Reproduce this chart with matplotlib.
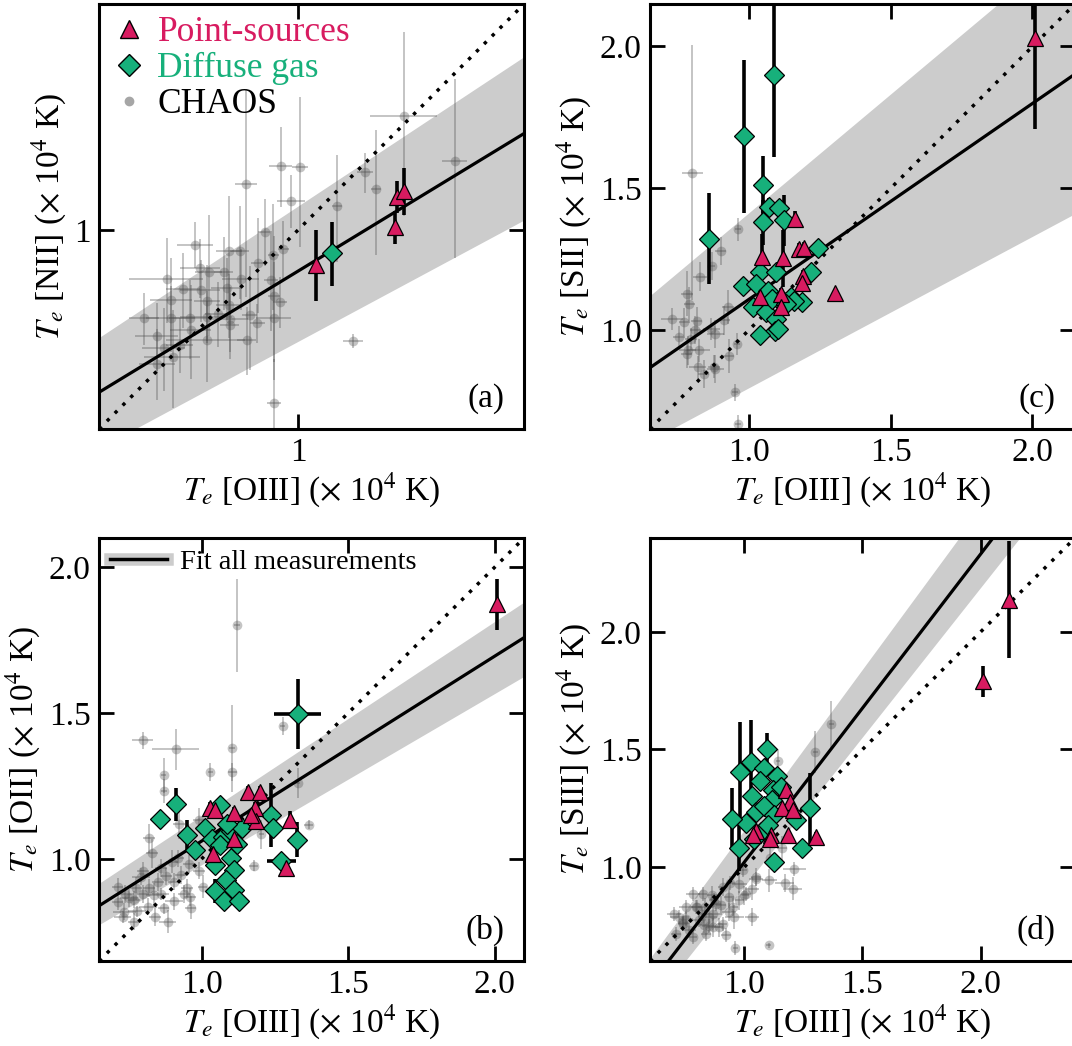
import numpy as np
import matplotlib
matplotlib.use('Agg')
import matplotlib.pyplot as plt
from matplotlib.lines import Line2D
from matplotlib.ticker import FixedLocator, FixedFormatter, NullLocator

plt.rcParams['font.family'] = ['Liberation Serif', 'DejaVu Serif']
plt.rcParams['mathtext.fontset'] = 'stix'

PINK = '#D81B60'
GREEN = '#17B07B'

# ---------------- panel (a): [NII] vs [OIII] (log axes) ----------------
a_ps_x = [1.032, 1.191, 1.194, 1.209]
a_ps_y = [0.940, 1.005, 1.062, 1.072]
a_ps_yerr = [0.06, 0.03, 0.03, 0.045]
a_df_x = [1.062]
a_df_y = [0.960]
a_df_yerr = [0.055]
a_ch_x = [1.210, 1.325, 0.970, 1.004, 0.911, 1.128, 1.150, 0.988, 1.072, 0.943,
          0.974, 0.832, 0.791, 0.884, 0.901, 0.931, 0.957, 0.839, 0.852, 0.875,
          0.903, 0.953, 0.814, 0.840, 0.797, 0.850, 0.880, 0.958, 0.968, 0.759,
          0.797, 0.824, 0.849, 0.885, 0.917, 0.930, 0.958, 0.776, 0.825, 0.849,
          0.885, 0.912, 0.786, 0.799, 0.809, 1.104, 0.958, 0.867, 0.884, 0.777]
a_ch_y = [1.226, 1.131, 1.122, 1.120, 1.087, 1.109, 1.077, 1.054, 1.044, 0.997,
          0.966, 0.974, 0.916, 0.963, 0.964, 0.942, 0.957, 0.935, 0.927, 0.927,
          0.916, 0.914, 0.899, 0.898, 0.882, 0.880, 0.901, 0.889, 0.879, 0.854,
          0.854, 0.854, 0.856, 0.853, 0.858, 0.846, 0.854, 0.827, 0.836, 0.821,
          0.843, 0.821, 0.809, 0.797, 0.814, 0.820, 0.734, 0.861, 0.874, 0.787]
a_ch_xerr = [0.073, 0.030, 0.020, 0.015, 0.018, 0.017, 0.010, 0.025, 0.010, 0.012,
             0.010, 0.027, 0.052, 0.020, 0.015, 0.012, 0.010, 0.030, 0.020, 0.015,
             0.030, 0.012, 0.025, 0.030, 0.030, 0.020, 0.025, 0.010, 0.012, 0.020,
             0.035, 0.030, 0.040, 0.030, 0.012, 0.012, 0.030, 0.030, 0.030, 0.060,
             0.015, 0.015, 0.030, 0.040, 0.020, 0.020, 0.012, 0.020, 0.020, 0.025]
a_ch_yerr = [0.20, 0.18, 0.08, 0.15, 0.20, 0.04, 0.12, 0.05, 0.10, 0.06,
             0.05, 0.04, 0.07, 0.10, 0.08, 0.08, 0.09, 0.05, 0.10, 0.06,
             0.05, 0.08, 0.06, 0.05, 0.07, 0.06, 0.05, 0.10, 0.04, 0.04,
             0.05, 0.06, 0.04, 0.05, 0.08, 0.03, 0.09, 0.05, 0.07, 0.06,
             0.05, 0.05, 0.06, 0.07, 0.04, 0.01, 0.06, 0.05, 0.05, 0.05]

# ---------------- panel (b): [OII] vs [OIII] ----------------
b_ps_x = [1.158, 1.198, 1.030, 1.044, 1.110, 1.181, 1.186, 1.170, 1.112, 1.038, 1.300, 1.289, 2.006]
b_ps_y = [1.229, 1.229, 1.174, 1.168, 1.157, 1.174, 1.130, 1.150, 1.068, 1.016, 1.134, 0.968, 1.873]
b_ps_yerr = [0.02, 0.02, 0.02, 0.02, 0.02, 0.02, 0.02, 0.02, 0.02, 0.02, 0.03, 0.02, 0.087]
b_df_x = [1.327, 0.911, 0.859, 0.951, 0.979, 1.064, 1.010, 1.035, 1.073, 1.099, 1.139, 1.061, 1.099,
          1.047, 1.110, 1.082, 1.047, 1.112, 1.076, 1.126, 1.235, 1.243, 1.326, 1.272, 1.120, 1.085]
b_df_y = [1.496, 1.187, 1.136, 1.082, 1.031, 1.185, 1.105, 1.068, 1.076, 1.094, 1.107, 1.048, 1.004,
          0.979, 0.962, 0.928, 0.890, 0.894, 0.854, 0.856, 1.151, 1.105, 1.065, 0.993, 1.050, 1.120]
b_df_xerr = [0.08, 0, 0, 0, 0, 0, 0, 0, 0, 0, 0, 0, 0,
             0, 0, 0, 0.03, 0, 0, 0, 0, 0, 0, 0.05, 0, 0]
b_df_yerr = [0.12, 0.057, 0.02, 0.05, 0.02, 0.02, 0.02, 0.02, 0.02, 0.02, 0.02, 0.02, 0.02,
             0.02, 0.02, 0.02, 0.04, 0.02, 0.02, 0.02, 0.11, 0.02, 0.06, 0.02, 0.02, 0.02]
b_ch_x = [0.799, 0.911, 1.120, 1.105, 1.276, 1.365, 1.327, 1.030, 1.104, 0.870, 0.873, 0.922, 0.820,
          0.831, 0.990, 1.204, 1.178, 1.004, 0.962, 0.884, 0.736, 0.776, 0.713, 0.839, 0.905, 0.930,
          0.862, 0.768, 0.793, 0.905, 0.958, 0.816, 0.753, 0.713, 0.919, 0.850, 0.800, 0.870, 0.940, 0.780,
          0.740, 0.770, 0.820, 0.860, 0.880, 0.950, 0.990, 0.730, 0.800, 0.840, 0.960, 0.900]
b_ch_y = [1.406, 1.376, 1.800, 1.379, 1.455, 1.117, 1.260, 1.297, 1.297, 1.286, 1.233, 1.119, 1.071,
          1.019, 1.134, 1.084, 0.977, 0.905, 0.833, 0.785, 0.819, 0.899, 0.905, 0.876, 0.854, 0.945,
          0.968, 0.785, 0.939, 0.922, 0.982, 0.836, 0.865, 0.853, 1.002, 0.920, 0.880, 0.830, 0.880, 0.820,
          0.880, 0.860, 0.900, 0.880, 0.940, 0.900, 0.960, 0.800, 0.960, 0.800, 0.870, 0.990]
b_ch_xerr = [0.035, 0.08, 0.01, 0.01, 0.01, 0.015, 0.01, 0.01, 0.015, 0.01, 0.01, 0.02, 0.02,
             0.02, 0.02, 0.01, 0.015, 0.015, 0.02, 0.03, 0.04, 0.02, 0.02, 0.03, 0.03, 0.02,
             0.02, 0.02, 0.03, 0.02, 0.02, 0.03, 0.03, 0.02, 0.02, 0.02, 0.02, 0.02, 0.02, 0.03,
             0.03, 0.02, 0.02, 0.03, 0.02, 0.02, 0.02, 0.03, 0.02, 0.02, 0.02, 0.02]
b_ch_yerr = [0.03, 0.07, 0.16, 0.15, 0.03, 0.015, 0.05, 0.03, 0.03, 0.06, 0.04, 0.05, 0.05,
             0.05, 0.04, 0.05, 0.02, 0.04, 0.04, 0.04, 0.03, 0.04, 0.03, 0.04, 0.03, 0.03,
             0.03, 0.03, 0.03, 0.03, 0.03, 0.03, 0.03, 0.03, 0.03, 0.03, 0.03, 0.02, 0.03, 0.02,
             0.03, 0.03, 0.03, 0.02, 0.03, 0.03, 0.03, 0.02, 0.03, 0.03, 0.03, 0.04]

# ---------------- panel (c): [SII] vs [OIII] ----------------
c_ps_x = [1.161, 1.046, 1.118, 1.177, 1.194, 1.191, 1.185, 1.037, 1.112, 1.112, 1.303, 2.009]
c_ps_y = [1.391, 1.258, 1.252, 1.285, 1.289, 1.191, 1.164, 1.117, 1.127, 1.082, 1.129, 2.030]
c_ps_yerr = [0.03, 0.08, 0.10, 0.02, 0.02, 0.02, 0.02, 0.02, 0.02, 0.02, 0.01, 0.32]
c_df_x = [1.049, 0.860, 0.982, 1.089, 1.070, 1.106, 1.049, 1.122, 1.040, 1.096, 0.978, 1.025, 1.067, 1.014,
          1.061, 1.108, 1.149, 1.185, 1.096, 1.090, 1.037, 1.102, 1.244, 1.220, 1.082, 1.160, 1.130]
c_df_y = [1.512, 1.322, 1.684, 1.899, 1.434, 1.429, 1.379, 1.387, 1.205, 1.203, 1.156, 1.162, 1.138, 1.080,
          1.062, 1.103, 1.115, 1.097, 1.038, 0.997, 0.980, 1.003, 1.289, 1.203, 1.109, 1.100, 1.090]
c_df_yerr = [0.10, 0.16, 0.27, 0.29, 0.03, 0.03, 0.08, 0.09, 0.03, 0.03, 0.02, 0.02, 0.02, 0.02,
             0.02, 0.02, 0.02, 0.02, 0.02, 0.02, 0.02, 0.02, 0.02, 0.02, 0.02, 0.02, 0.02]
c_ch_x = [0.800, 0.960, 0.899, 0.869, 0.828, 0.781, 0.789, 0.728, 0.771, 0.815, 0.810, 0.925, 0.913, 0.866,
          0.881, 0.783, 0.822, 0.840, 0.881, 0.928, 0.958, 0.949, 0.960, 0.819, 0.753, 0.795, 0.779, 0.876]
c_ch_y = [1.555, 1.355, 1.277, 1.226, 1.188, 1.127, 1.091, 1.038, 1.027, 1.030, 0.999, 1.080, 1.033, 1.003,
          0.986, 0.927, 0.927, 0.845, 0.862, 0.909, 0.950, 0.780, 0.669, 0.868, 0.974, 0.968, 0.915, 0.870]
c_ch_xerr = [0.037, 0.01, 0.02, 0.01, 0.025, 0.02, 0.02, 0.04, 0.02, 0.02, 0.02, 0.02, 0.02, 0.03,
             0.03, 0.03, 0.04, 0.02, 0.03, 0.02, 0.01, 0.01, 0.01, 0.03, 0.02, 0.02, 0.02, 0.02]
c_ch_yerr = [0.45, 0.04, 0.05, 0.05, 0.05, 0.08, 0.06, 0.04, 0.05, 0.05, 0.05, 0.06, 0.05, 0.04,
             0.05, 0.05, 0.04, 0.05, 0.05, 0.06, 0.04, 0.03, 0.03, 0.04, 0.04, 0.04, 0.05, 0.04]

# ---------------- panel (d): [SIII] vs [OIII] ----------------
d_ps_x = [1.177, 1.191, 1.160, 1.205, 1.047, 1.038, 1.113, 1.110, 1.184, 1.304, 2.009, 2.119]
d_ps_y = [1.327, 1.277, 1.249, 1.244, 1.155, 1.134, 1.134, 1.120, 1.134, 1.127, 1.790, 2.138]
d_ps_yerr = [0.02, 0.02, 0.02, 0.02, 0.02, 0.02, 0.02, 0.02, 0.02, 0.02, 0.065, 0.25]
d_df_x = [1.096, 1.026, 0.983, 1.085, 1.139, 1.064, 1.033, 1.120, 1.117, 1.050, 1.082, 1.007,
          0.948, 1.127, 1.217, 1.279, 0.979, 1.127, 1.245, 1.155, 1.070, 1.100, 1.040]
d_df_y = [1.500, 1.447, 1.405, 1.422, 1.386, 1.365, 1.301, 1.327, 1.284, 1.234, 1.258, 1.188,
          1.206, 1.220, 1.199, 1.249, 1.082, 1.021, 1.081, 1.340, 1.150, 1.180, 1.120]
d_df_yerr = [0.07, 0.18, 0.21, 0.03, 0.03, 0.03, 0.03, 0.03, 0.03, 0.03, 0.03, 0.03,
             0.13, 0.03, 0.03, 0.15, 0.10, 0.03, 0.03, 0.03, 0.03, 0.03, 0.03]
d_ch_x = [1.368, 1.301, 1.142, 1.212, 1.106, 1.170, 1.205, 1.033, 0.979, 0.934, 0.901, 0.863, 0.781,
          0.835, 0.753, 0.809, 0.866, 0.891, 0.958, 1.033, 0.922, 0.837, 0.724, 0.703, 0.767, 0.962,
          1.103, 0.993, 0.908, 0.951, 0.800, 0.740, 0.850, 1.000, 1.050, 0.870, 0.820, 0.940, 1.110, 1.160,
          0.795, 0.738, 0.866, 1.007, 1.050, 0.823, 0.852, 0.908, 0.781, 0.936, 0.710, 0.880, 0.979,
          0.753, 0.830]
d_ch_y = [1.608, 1.490, 1.450, 0.993, 0.943, 0.932, 0.908, 0.908, 0.929, 0.872, 0.837, 0.879, 0.886,
          0.830, 0.780, 0.773, 0.801, 0.744, 0.787, 0.787, 0.709, 0.716, 0.787, 0.801, 0.730, 0.657,
          0.666, 0.986, 0.915, 0.830, 0.830, 0.760, 0.750, 0.880, 0.950, 0.860, 0.800, 0.930, 1.040, 1.080,
          0.830, 0.758, 0.744, 0.886, 0.957, 0.886, 0.787, 0.758, 0.702, 0.808, 0.716, 0.844, 0.858,
          0.830, 0.751]
d_ch_xerr = [0.01, 0.01, 0.01, 0.05, 0.03, 0.04, 0.04, 0.03, 0.03, 0.02, 0.02, 0.02, 0.03,
             0.03, 0.03, 0.03, 0.03, 0.02, 0.04, 0.03, 0.02, 0.02, 0.04, 0.03, 0.03, 0.01,
             0.01, 0.02, 0.02, 0.02, 0.02, 0.02, 0.03, 0.02, 0.03, 0.02, 0.02, 0.02, 0.01, 0.02,
             0.02, 0.02, 0.03, 0.02, 0.02, 0.02, 0.03, 0.02, 0.02, 0.03, 0.02, 0.02, 0.02,
             0.03, 0.02]
d_ch_yerr = [0.10, 0.09, 0.05, 0.03, 0.05, 0.04, 0.05, 0.05, 0.04, 0.04, 0.04, 0.04, 0.03,
             0.04, 0.03, 0.03, 0.04, 0.04, 0.05, 0.04, 0.03, 0.03, 0.03, 0.03, 0.03, 0.03,
             0.01, 0.03, 0.04, 0.04, 0.03, 0.03, 0.03, 0.04, 0.03, 0.03, 0.03, 0.03, 0.04, 0.05,
             0.03, 0.03, 0.04, 0.03, 0.04, 0.03, 0.03, 0.03, 0.03, 0.04, 0.03, 0.03, 0.04,
             0.03, 0.03]

# fit lines: (slope, intercept) for fit, upper and lower band edges
# panel (a) in log10 space
fit_a = [(0.609, -0.032), (0.661, 0.0187), (0.537, -0.0867)]
fit_b = [(0.634, 0.427), (0.665, 0.484), (0.587, 0.393)]
fit_c = [(0.691, 0.417), (0.838, 0.576), (0.534, 0.262)]
fit_d = [(1.31, -0.289), (1.367, -0.209), (1.271, -0.353)]

fig = plt.figure(figsize=(10.72, 10.46), dpi=100)
ax_a = fig.add_axes([0.0924, 0.5899, 0.3965, 0.4063])
ax_c = fig.add_axes([0.6063, 0.5899, 0.3965, 0.4063])
ax_b = fig.add_axes([0.0924, 0.0813, 0.3965, 0.4044])
ax_d = fig.add_axes([0.6063, 0.0813, 0.3965, 0.4044])


def draw_panel(ax, lims, fit, ps, df, ch, ylab, tag, logscale=False):
    lo, hi = lims
    if logscale:
        xx = np.logspace(np.log10(lo), np.log10(hi), 200)
        lx = np.log10(xx)
        f = lambda p: 10 ** (p[0] * lx + p[1])
    else:
        xx = np.linspace(lo, hi, 200)
        f = lambda p: p[0] * xx + p[1]
    ax.fill_between(xx, f(fit[2]), f(fit[1]), color='0.8', lw=0, zorder=1)
    ax.errorbar(ch[0], ch[1], xerr=ch[2], yerr=ch[3], fmt='o', color='0.3',
                alpha=0.33, ms=7, mew=0, elinewidth=1.4, capsize=2.5, capthick=1.1, zorder=2)
    ax.plot(xx, f(fit[0]), color='k', lw=2.3, zorder=3)
    ax.plot([lo, hi], [lo, hi], color='k', lw=2.5, ls=(0, (1, 2.2)), zorder=3)
    # diffuse gas
    ax.errorbar(df[0], df[1], xerr=df[3] if len(df) > 3 else None, yerr=df[2],
                fmt='none', ecolor='k', elinewidth=2.6, zorder=4)
    ax.plot(df[0], df[1], ls='', marker='D', ms=10.5, color=GREEN, mec='k', mew=0.9, zorder=5)
    # point sources
    ax.errorbar(ps[0], ps[1], yerr=ps[2], fmt='none', ecolor='k', elinewidth=2.6, zorder=4)
    ax.plot(ps[0], ps[1], ls='', marker='^', ms=12, color=PINK, mec='k', mew=0.9, zorder=6)

    if logscale:
        ax.set_xscale('log')
        ax.set_yscale('log')
        for axis in (ax.xaxis, ax.yaxis):
            axis.set_major_locator(FixedLocator([1.0]))
            axis.set_major_formatter(FixedFormatter(['1']))
            axis.set_minor_locator(NullLocator())
    else:
        ax.set_xticks([1.0, 1.5, 2.0])
        ax.set_yticks([1.0, 1.5, 2.0])
    ax.set_xlim(lo, hi)
    ax.set_ylim(lo, hi)
    ax.tick_params(direction='in', length=11, width=2, top=True, right=True,
                   labelsize=24, pad=6)
    for s in ax.spines.values():
        s.set_linewidth(2.2)
    ax.set_xlabel(r'$T_e$ [OIII] ($\times$ 10$^4$ K)', fontsize=24, labelpad=2)
    ax.set_ylabel(r'$T_e$ ' + ylab + r' ($\times$ 10$^4$ K)', fontsize=24, labelpad=4)
    ax.text(0.955, 0.035, tag, transform=ax.transAxes, ha='right', va='bottom', fontsize=24)


draw_panel(ax_a, (0.70, 1.50), fit_a, (a_ps_x, a_ps_y, a_ps_yerr), (a_df_x, a_df_y, a_df_yerr),
           (a_ch_x, a_ch_y, a_ch_xerr, a_ch_yerr), '[NII]', '(a)', logscale=True)
draw_panel(ax_b, (0.65, 2.10), fit_b, (b_ps_x, b_ps_y, b_ps_yerr), (b_df_x, b_df_y, b_df_yerr, b_df_xerr),
           (b_ch_x, b_ch_y, b_ch_xerr, b_ch_yerr), '[OII]', '(b)')
draw_panel(ax_c, (0.65, 2.15), fit_c, (c_ps_x, c_ps_y, c_ps_yerr), (c_df_x, c_df_y, c_df_yerr),
           (c_ch_x, c_ch_y, c_ch_xerr, c_ch_yerr), '[SII]', '(c)')
draw_panel(ax_d, (0.60, 2.40), fit_d, (d_ps_x, d_ps_y, d_ps_yerr), (d_df_x, d_df_y, d_df_yerr),
           (d_ch_x, d_ch_y, d_ch_xerr, d_ch_yerr), '[SIII]', '(d)')

# legend panel (a)
handles = [Line2D([], [], ls='', marker='^', ms=13, color=PINK, mec='k', mew=1),
           Line2D([], [], ls='', marker='D', ms=11.5, color=GREEN, mec='k', mew=1),
           Line2D([], [], ls='', marker='o', ms=6, color='0.65')]
ax_a.legend(handles, ['Point-sources', 'Diffuse gas', 'CHAOS'], loc='upper left',
            frameon=False, fontsize=25.5, handlelength=1.0, handletextpad=0.3,
            labelspacing=0.08, borderaxespad=0.1, borderpad=0.25,
            labelcolor=[PINK, GREEN, 'k'])

# legend panel (b)
fit_handle = (Line2D([], [], color='0.8', lw=9), Line2D([], [], color='k', lw=2.5))
ax_b.legend([fit_handle], ['Fit all measurements'], loc='upper left', frameon=False,
            fontsize=20.5, handlelength=2.0, handletextpad=0.45, borderaxespad=0.1, borderpad=0.3)

fig.savefig('out.png', dpi=100)
